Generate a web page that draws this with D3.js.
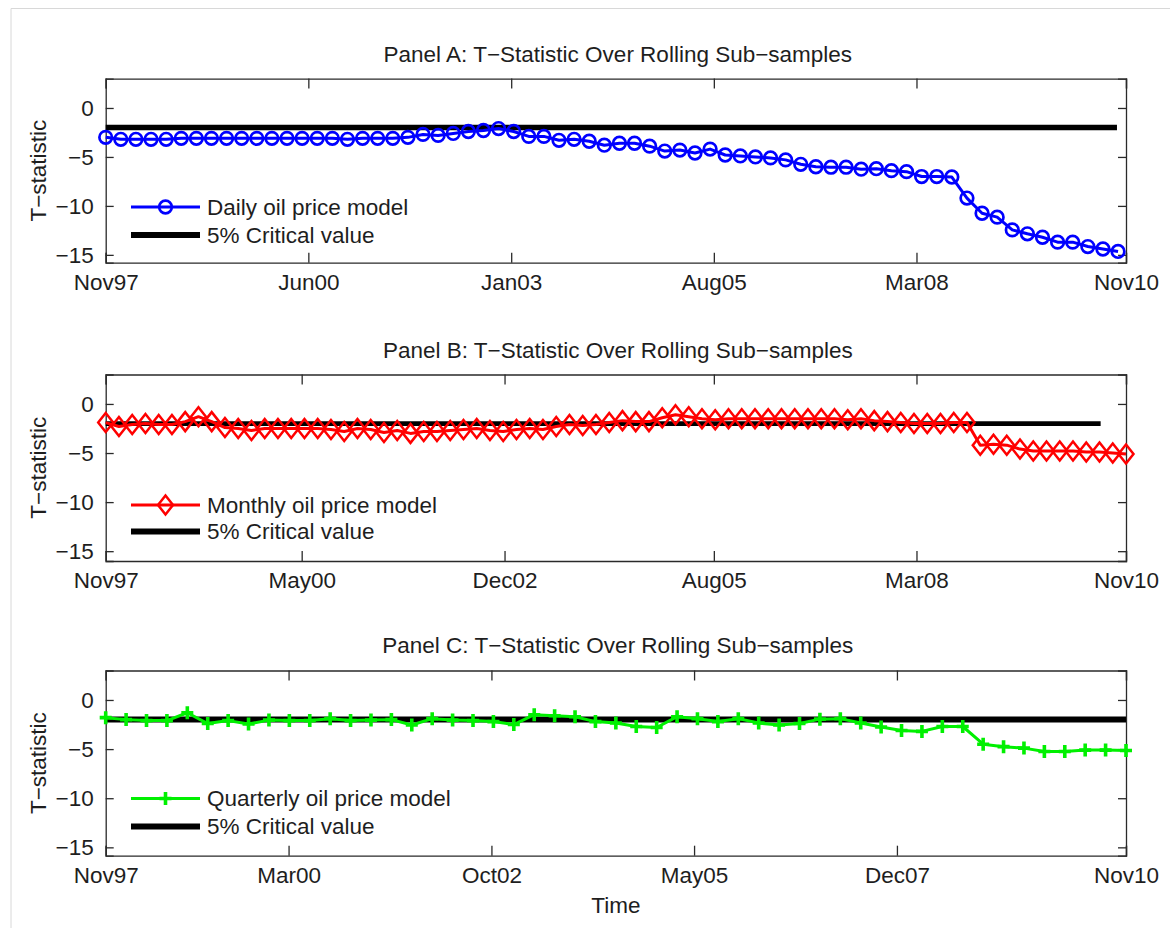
<!DOCTYPE html>
<html><head><meta charset="utf-8">
<script src="https://cdn.jsdelivr.net/npm/d3@7"></script>
<style>
body{margin:0;background:#fff}
svg{display:block}
text{font-family:"Liberation Sans",Arial,Helvetica,sans-serif;fill:#1e1e1e}
</style>
</head><body>
<svg id="chart" width="1170" height="928"></svg>
<script>
// ---- data ----
const dailyValues = [-3.0,-3.2,-3.2,-3.2,-3.2,-3.1,-3.1,-3.1,-3.1,-3.1,-3.1,-3.1,-3.1,-3.1,-3.1,-3.1,-3.2,-3.1,-3.1,-3.1,
  -3.0,-2.7,-2.8,-2.6,-2.4,-2.3,-2.1,-2.4,-2.9,-2.9,-3.3,-3.2,-3.4,-3.8,-3.6,-3.6,-3.9,-4.4,-4.3,-4.6,
  -4.2,-4.8,-4.9,-5.0,-5.1,-5.3,-5.75,-6.0,-6.05,-6.05,-6.25,-6.2,-6.4,-6.5,-7.0,-7.0,-7.05,-9.2,-10.75,-11.15,
  -12.45,-12.85,-13.2,-13.7,-13.7,-14.15,-14.4,-14.65];
const monthlyValues = [-1.9,-2.3,-2.1,-2.0,-2.1,-2.1,-1.8,-1.3,-1.8,-2.4,-2.5,-2.7,-2.5,-2.5,-2.5,-2.5,-2.5,-2.6,-2.8,-2.5,
  -2.6,-2.9,-2.7,-3.0,-2.8,-2.8,-2.7,-2.6,-2.5,-2.7,-2.8,-2.6,-2.5,-2.6,-2.3,-2.1,-2.2,-2.1,-1.9,-1.7,
  -1.8,-1.8,-1.4,-1.1,-1.3,-1.5,-1.6,-1.5,-1.5,-1.5,-1.5,-1.5,-1.5,-1.5,-1.5,-1.5,-1.6,-1.5,-1.7,-1.8,
  -1.9,-2.0,-2.0,-2.0,-1.9,-1.9,-4.2,-4.1,-4.2,-4.6,-4.8,-4.8,-4.8,-4.8,-4.9,-4.9,-5.0,-5.1];
const quarterlyValues = [-1.8,-2.0,-2.1,-2.1,-1.3,-2.4,-2.1,-2.45,-2.05,-2.1,-2.1,-1.9,-2.1,-2.05,-2.0,-2.55,-1.9,-2.05,-2.1,-2.2,
  -2.5,-1.5,-1.6,-1.7,-2.2,-2.35,-2.7,-2.8,-1.7,-1.9,-2.2,-1.9,-2.35,-2.55,-2.4,-1.95,-1.9,-2.35,-2.75,-3.1,
  -3.2,-2.7,-2.7,-4.5,-4.75,-4.9,-5.25,-5.25,-5.1,-5.1,-5.15];
const criticalValue = -2;
// first / last sample date for each series, and the span of each critical-value line
const dailySpan = ["1997-11-01","2010-09-25"];
const monthlySpan = ["1997-11-01","2010-11-01"];
const quarterlySpan = ["1997-11-01","2010-11-01"];
const criticalSpanA = ["1997-11-01","2010-09-20"];
const criticalSpanB = ["1997-11-01","2010-07-06"];
const criticalSpanC = ["1997-11-01","2010-11-01"];
const ticksA = ["1997-11","2000-06","2003-01","2005-08","2008-03","2010-11"];
const ticksB = ["1997-11","2000-05","2002-12","2005-08","2008-03","2010-11"];
const ticksC = ["1997-11","2000-03","2002-10","2005-05","2007-12","2010-11"];
const yTicks = [0,-5,-10,-15];
const titles = ["Panel A: T\u2212Statistic Over Rolling Sub\u2212samples",
                "Panel B: T\u2212Statistic Over Rolling Sub\u2212samples",
                "Panel C: T\u2212Statistic Over Rolling Sub\u2212samples"];
const seriesNames = ["Daily oil price model","Monthly oil price model","Quarterly oil price model"];
const criticalName = "5% Critical value";

// ---- drawing ----
const svg = d3.select("#chart");
const parse = d3.timeParse("%Y-%m-%d");
const parseM = d3.timeParse("%Y-%m");
const fmt = d3.timeFormat("%b%y");
const left = 105.7, right = 1126;
const FS = "22.5px";
const x = d3.scaleTime().domain([parseM("1997-11"), parseM("2010-11")]).range([left, right]);

// faint page frame
svg.append("path").attr("d", "M11,928V8.5H1170").attr("fill", "none").attr("stroke", "#d8d8d8").attr("stroke-width", 1);

const panels = [
  {title:titles[0], values:dailyValues, span:dailySpan, crit:criticalSpanA, ticks:ticksA, color:"#0000ff",
   marker:"circle", name:seriesNames[0], top:78.6, bottom:262.7, ydom:[3,-15.8], critW:5.5, legY:[207,235], titleY:54},
  {title:titles[1], values:monthlyValues, span:monthlySpan, crit:criticalSpanB, ticks:ticksB, color:"#ff0000",
   marker:"diamond", name:seriesNames[1], top:374.5, bottom:561, ydom:[3,-16], critW:4.8, legY:[505,531.5], titleY:350},
  {title:titles[2], values:quarterlyValues, span:quarterlySpan, crit:criticalSpanC, ticks:ticksC, color:"#00f000",
   marker:"plus", name:seriesNames[2], top:670.5, bottom:855.7, ydom:[3,-15.85], critW:6, legY:[798.5,826.5], titleY:645}
];

function drawMarker(g, type, color, cx, cy) {
  if (type === "circle") {
    g.append("circle").attr("cx", cx).attr("cy", cy).attr("r", 6.3)
      .attr("fill", "none").attr("stroke", color).attr("stroke-width", 2.7);
  } else if (type === "diamond") {
    g.append("path").attr("d", `M${cx},${cy-9.5}L${cx+7.5},${cy}L${cx},${cy+9.5}L${cx-7.5},${cy}Z`)
      .attr("fill", "none").attr("stroke", color).attr("stroke-width", 2.5);
  } else {
    g.append("path").attr("d", `M${cx-6},${cy}H${cx+6}M${cx},${cy-6.5}V${cy+6.5}`)
      .attr("fill", "none").attr("stroke", color).attr("stroke-width", 3.6);
  }
}

panels.forEach(p => {
  const y = d3.scaleLinear().domain(p.ydom).range([p.top, p.bottom]);
  const g = svg.append("g");
  const t0 = parse(p.span[0]).getTime(), t1 = parse(p.span[1]).getTime();
  const n = p.values.length;
  const pts = p.values.map((v, i) => ({date: new Date(t0 + (t1 - t0) * i / (n - 1)), v}));

  // title
  g.append("text").attr("x", (left + right) / 2 + 2).attr("y", p.titleY).attr("text-anchor", "middle")
    .attr("dominant-baseline", "central").style("font-size", FS).text(p.title);

  // y label
  g.append("text").attr("transform", `translate(38,${(p.top + p.bottom) / 2}) rotate(-90)`)
    .attr("text-anchor", "middle").attr("dominant-baseline", "central").style("font-size", FS)
    .text("T\u2212statistic");

  // axes with inward ticks
  const tickDates = p.ticks.map(parseM);
  const xb = d3.axisBottom(x).tickValues(tickDates).tickSize(-10).tickFormat(fmt).tickPadding(11);
  const xt = d3.axisTop(x).tickValues(tickDates).tickSize(-10).tickFormat("");
  const yl = d3.axisLeft(y).tickValues(yTicks).tickSize(-8).tickPadding(12).tickFormat(d3.format("d"));
  const yr = d3.axisRight(y).tickValues(yTicks).tickSize(-8).tickFormat("");
  [[xb, `translate(0,${p.bottom})`], [xt, `translate(0,${p.top})`], [yl, `translate(${left},0)`], [yr, `translate(${right},0)`]]
    .forEach(([ax, tr]) => {
      const a = g.append("g").attr("transform", tr).call(ax);
      a.select(".domain").attr("stroke", "#2a2a2a").attr("stroke-width", 1.3);
      a.selectAll(".tick line").attr("stroke", "#2a2a2a").attr("stroke-width", 1.3);
      a.selectAll(".tick text").style("font-size", FS).attr("fill", "#1e1e1e")
        .style("font-family", '"Liberation Sans",Arial,sans-serif');
    });

  // critical line
  g.append("line").attr("x1", x(parse(p.crit[0]))).attr("x2", x(parse(p.crit[1])))
    .attr("y1", y(criticalValue)).attr("y2", y(criticalValue))
    .attr("stroke", "#000").attr("stroke-width", p.critW);

  // series line
  const line = d3.line().x(d => x(d.date)).y(d => y(d.v));
  g.append("path").datum(pts).attr("d", line).attr("fill", "none")
    .attr("stroke", p.color).attr("stroke-width", 3).attr("stroke-linejoin", "round");
  const mg = g.append("g");
  pts.forEach(d => drawMarker(mg, p.marker, p.color, x(d.date), y(d.v)));

  // legend
  const lg = g.append("g");
  lg.append("line").attr("x1", 131).attr("x2", 200).attr("y1", p.legY[0]).attr("y2", p.legY[0])
    .attr("stroke", p.color).attr("stroke-width", 3);
  drawMarker(lg, p.marker, p.color, 165.5, p.legY[0]);
  lg.append("text").attr("x", 207).attr("y", p.legY[0]).attr("dominant-baseline", "central")
    .style("font-size", FS).text(p.name);
  lg.append("line").attr("x1", 131).attr("x2", 200).attr("y1", p.legY[1]).attr("y2", p.legY[1])
    .attr("stroke", "#000").attr("stroke-width", 6);
  lg.append("text").attr("x", 207).attr("y", p.legY[1]).attr("dominant-baseline", "central")
    .style("font-size", FS).text(criticalName);
});

svg.append("text").attr("x", (left + right) / 2).attr("y", 905).attr("text-anchor", "middle")
  .attr("dominant-baseline", "central").style("font-size", FS).text("Time");
</script>
</body></html>
